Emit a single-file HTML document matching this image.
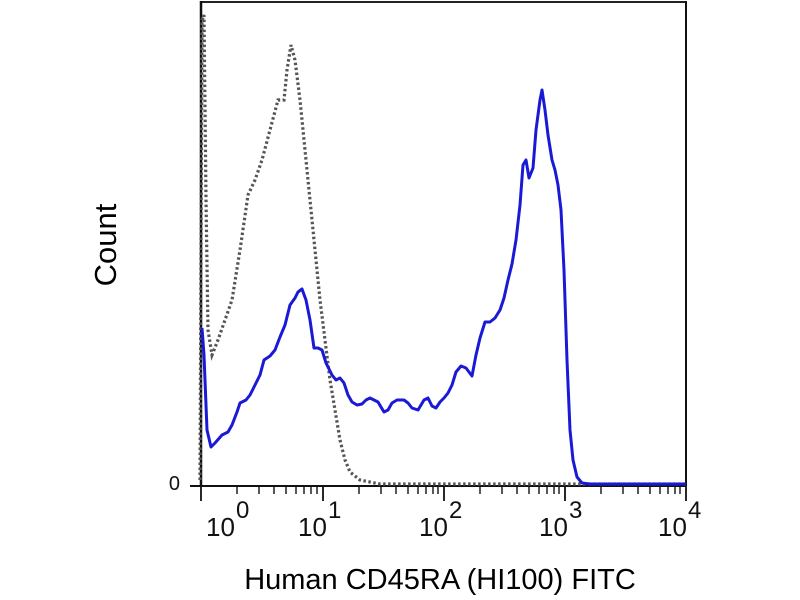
<!DOCTYPE html>
<html><head><style>
html,body{margin:0;padding:0;background:#fff;width:800px;height:600px;overflow:hidden}
</style></head><body>
<svg width="800" height="600" xmlns="http://www.w3.org/2000/svg" font-family="Liberation Sans, sans-serif">
<rect x="0" y="0" width="800" height="600" fill="#fff"/>
<line x1="201" y1="2" x2="686" y2="2" stroke="#222" stroke-width="2"/>
<line x1="201" y1="1" x2="201" y2="486" stroke="#111" stroke-width="2.5"/>
<line x1="686" y1="1" x2="686" y2="486" stroke="#111" stroke-width="2"/>
<line x1="190" y1="486" x2="686" y2="486" stroke="#111" stroke-width="2"/>
<g stroke="#111" stroke-width="1.8">
<path d="M201 486v15M323 486v15M444 486v15M565 486v15M686 486v15"/>
</g>
<polyline fill="none" stroke="#555" stroke-width="3.2" stroke-dasharray="2.5,2.5" points="200,480 202,20 204,15 206,200 208,330 212,355 218,340 225,320 232,300 240,250 248,195 255,180 262,160 270,130 278,100 284,100 287,70 291,45 295,60 300,100 305,150 310,200 315,250 320,300 325,340 330,380 335,410 340,440 345,460 350,472 360,480 380,484 686,484"/>
<polyline fill="none" stroke="#1a1ad6" stroke-width="3" stroke-linejoin="round" points="202,328 204,355 207,430 211,447 215,443 222,435 228,432 232,425 237,412 240,403 246,400 250,395 255,385 260,375 264,360 270,356 275,350 280,337 285,325 290,305 295,298 298,292 302,289 306,300 310,320 314,348 318,348 322,350 326,363 332,375 336,380 340,378 344,383 348,395 352,402 357,405 362,404 366,400 370,398 374,400 378,402 384,412 388,410 392,403 397,400 404,400 408,403 412,408 418,410 424,400 428,398 432,406 436,408 440,402 444,398 448,393 452,385 456,372 461,366 466,368 472,376 476,355 480,338 485,322 490,322 495,318 500,310 504,298 508,280 512,264 516,240 520,205 523,165 526,160 529,178 533,168 536,130 540,100 542,90 545,110 548,135 552,160 555,170 558,185 561,210 564,270 567,360 570,430 573,460 577,477 582,483 590,484 686,484"/>
<text x="180" y="490" font-size="20" fill="#111" text-anchor="end">0</text>
<g font-size="26" fill="#111">
<text x="206" y="536">10</text><text x="236" y="518" font-size="24">0</text>
<text x="298" y="536">10</text><text x="328" y="518" font-size="24">1</text>
<text x="419" y="536">10</text><text x="449" y="518" font-size="24">2</text>
<text x="539" y="536">10</text><text x="569" y="518" font-size="24">3</text>
<text x="658" y="536">10</text><text x="688" y="518" font-size="24">4</text>
</g>
<text x="440" y="589" font-size="29" fill="#000" text-anchor="middle">Human CD45RA (HI100) FITC</text>
<text transform="translate(116,245) rotate(-90)" font-size="31" fill="#000" text-anchor="middle">Count</text>
<g stroke="#111" stroke-width="1.4">
<path d="M237 486v8M259 486v8M274 486v8M286 486v8M296 486v8M304 486v8M311 486v8M317 486v8
M359 486v8M381 486v8M396 486v8M408 486v8M418 486v8M426 486v8M433 486v8M438 486v8
M480 486v8M502 486v8M517 486v8M529 486v8M539 486v8M547 486v8M554 486v8M559 486v8
M601 486v8M623 486v8M638 486v8M650 486v8M660 486v8M668 486v8M675 486v8M680 486v8"/>
</g>
</svg>
</body></html>
